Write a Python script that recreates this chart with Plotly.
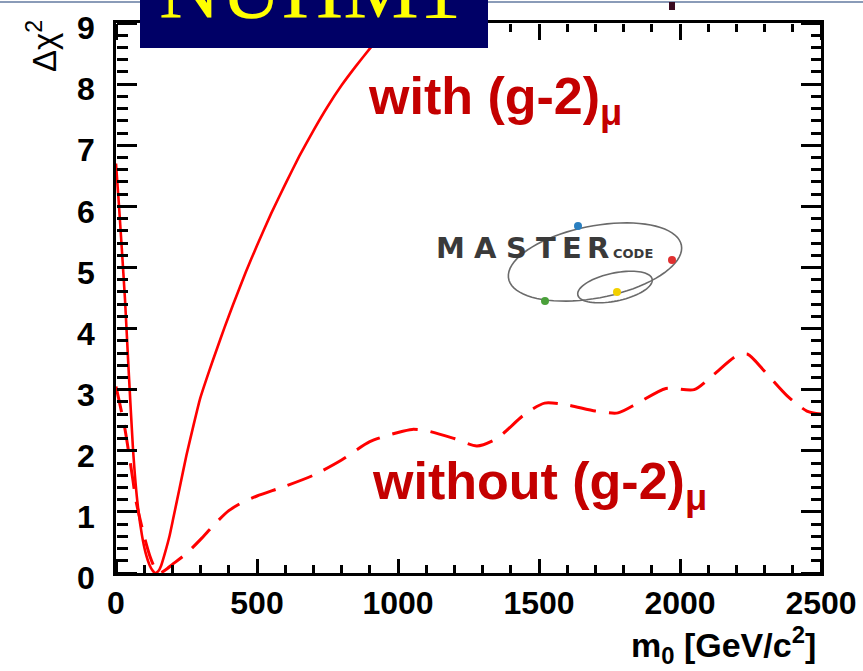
import numpy as np
import plotly.graph_objects as go

# ---------------- data ----------------
m0_with = [0, 10, 20, 32, 45, 60, 75, 92, 105, 120, 130, 140, 150, 160, 175, 190, 202,
           225, 250, 275, 298, 330, 358, 385, 415, 460, 500, 550, 600, 650, 700, 750,
           800, 850, 900, 950, 1000, 1050]
chi2_with = [6.7, 6.05, 5.35, 4.47, 3.3, 2.05, 1.2, 0.62, 0.33, 0.12, 0.04, 0.0, 0.03,
             0.12, 0.35, 0.61, 0.87, 1.38, 1.93, 2.42, 2.85, 3.3, 3.67, 4.02, 4.39, 4.92,
             5.36, 5.88, 6.36, 6.82, 7.24, 7.63, 7.98, 8.29, 8.58, 8.85, 9.1, 9.35]

m0_without = [0, 30, 60, 70, 100, 120, 140, 155, 175, 200, 250, 300, 350, 400, 450, 500,
              600, 700, 800, 900, 1000, 1050, 1100, 1200, 1280, 1350, 1450, 1520, 1600,
              1700, 1780, 1850, 1950, 2050, 2120, 2200, 2240, 2300, 2380, 2450, 2500]
chi2_without = [3.05, 2.4, 1.52, 1.2, 0.6, 0.28, 0.06, 0.0, 0.05, 0.14, 0.32, 0.55, 0.8,
                1.02, 1.16, 1.26, 1.42, 1.6, 1.85, 2.15, 2.3, 2.35, 2.33, 2.2, 2.08, 2.2,
                2.6, 2.78, 2.75, 2.65, 2.62, 2.78, 3.02, 3.0, 3.25, 3.55, 3.58, 3.3, 2.9,
                2.65, 2.6]

x_tick_vals = [0, 500, 1000, 1500, 2000, 2500]
y_tick_vals = [0, 1, 2, 3, 4, 5, 6, 7, 8, 9]
x_minor_step = 100
y_minor_step = 0.2
x_range = [0, 2500]
y_range = [0, 9]

# ---------------- geometry ----------------
W, H = 863, 671
L, R, T, B = 116, 821, 23, 573


def px(x):
    return (x - L) / (R - L)


def py(y):
    return (B - y) / (B - T)


fig = go.Figure()
fig.add_trace(go.Scatter(x=m0_with, y=chi2_with, mode="lines",
                         line=dict(color="#ff0000", width=2.6, shape="spline",
                                   smoothing=0.4),
                         hoverinfo="skip"))
fig.add_trace(go.Scatter(x=m0_without, y=chi2_without, mode="lines",
                         line=dict(color="#ff0000", width=3, dash="26px,13px",
                                   shape="spline", smoothing=0.7),
                         hoverinfo="skip"))
# empty traces so the tick-only overlay axes are drawn
fig.add_trace(go.Scatter(x=[], y=[], xaxis="x2", yaxis="y2", hoverinfo="skip"))
fig.add_trace(go.Scatter(x=[], y=[], xaxis="x3", yaxis="y3", hoverinfo="skip"))

tickfont = dict(family="Liberation Sans, Arial", size=32, color="black", weight="bold")


def x_tick_axis(side, pos, major_len, minor_len):
    return dict(overlaying="x", side=side, anchor="free", position=pos, range=x_range,
                tickmode="array", tickvals=x_tick_vals, showticklabels=False,
                ticks="outside", ticklen=major_len, tickwidth=3, tickcolor="black",
                showline=False, showgrid=False, zeroline=False,
                minor=dict(ticks="outside", ticklen=minor_len, tickmode="linear",
                           tick0=0, dtick=x_minor_step, tickwidth=2.5,
                           tickcolor="black", showgrid=False))


def y_tick_axis(side, pos, major_len, minor_len):
    return dict(overlaying="y", side=side, anchor="free", position=pos, range=y_range,
                tickmode="array", tickvals=y_tick_vals, showticklabels=False,
                ticks="outside", ticklen=major_len, tickwidth=3, tickcolor="black",
                showline=False, showgrid=False, zeroline=False,
                minor=dict(ticks="outside", ticklen=minor_len, tickmode="linear",
                           tick0=0, dtick=y_minor_step, tickwidth=2.5,
                           tickcolor="black", showgrid=False))


fig.update_layout(
    template="none",
    xaxis=dict(range=x_range, tickmode="array", tickvals=x_tick_vals,
               ticktext=[str(v) for v in x_tick_vals], ticks="",
               showline=True, linewidth=2.5, linecolor="black", mirror=True,
               showgrid=False, zeroline=False, tickfont=tickfont),
    yaxis=dict(range=y_range, tickmode="array", tickvals=y_tick_vals,
               ticktext=[str(v) for v in y_tick_vals], ticks="",
               showline=True, linewidth=2.5, linecolor="black", mirror=True,
               showgrid=False, zeroline=False, tickfont=tickfont,
               ticklabelstandoff=12, ticklabelshift=5),
    # tick marks pointing into the frame (bottom/top, left/right)
    xaxis2=x_tick_axis("top", 0, 14, 8),
    xaxis3=x_tick_axis("bottom", 1, 16, 8),
    yaxis2=y_tick_axis("right", 0, 20, 11),
    yaxis3=y_tick_axis("left", 1, 20, 10),
)

ann = []
red = "#c40000"
ann.append(dict(x=885, y=7.74, xref="x", yref="y", xanchor="left", yanchor="middle",
                text="<b>with (g-2)<sub>μ</sub></b>", showarrow=False,
                font=dict(family="Liberation Sans, Arial", size=52, color=red)))
ann.append(dict(x=900, y=1.44, xref="x", yref="y", xanchor="left", yanchor="middle",
                text="<b>without (g-2)<sub>μ</sub></b>", showarrow=False,
                font=dict(family="Liberation Sans, Arial", size=52, color=red)))
# axis titles
ann.append(dict(x=px(818), y=py(645), xref="paper", yref="paper", xanchor="right",
                yanchor="middle", text="<b>m<sub>0</sub> [GeV/c<sup>2</sup>]</b>",
                showarrow=False, font=dict(family="Liberation Sans, Arial", size=34,
                                           color="black")))
ann.append(dict(x=px(42), y=py(18), xref="paper", yref="paper", xanchor="center",
                yanchor="top", text="Δχ<sup>2</sup>", textangle=-90, showarrow=False,
                font=dict(family="Liberation Sans, Arial", size=33, color="black")))
# NUHM1 label
ann.append(dict(x=px(310), y=py(20), xref="paper", yref="paper", xanchor="center",
                yanchor="bottom", text="NUHM1", showarrow=False, yshift=-18,
                font=dict(family="Liberation Serif, Times New Roman", size=85,
                          color="#ffff00")))

# logo letters
letters = ["M", "A", "S", "T", "E", "R"]
lx = [450, 485, 516, 546, 572, 598]
for ch, xx in zip(letters, lx):
    ann.append(dict(x=px(xx), y=py(248), xref="paper", yref="paper", xanchor="center",
                    yanchor="middle", text="<b>" + ch + "</b>", showarrow=False,
                    font=dict(family="DejaVu Sans", size=29, color="#3a3a3a")))
ann.append(dict(x=px(611), y=py(253), xref="paper", yref="paper", xanchor="left",
                yanchor="middle", text="<b>CODE</b>", showarrow=False,
                font=dict(family="DejaVu Sans", size=13, color="#3a3a3a")))

shapes = []
# top thin line
shapes.append(dict(type="line", xref="paper", yref="paper", x0=px(0), x1=px(W),
                   y0=py(2), y1=py(2), line=dict(color="#8a9bb8", width=2), layer="above"))
# blue box
shapes.append(dict(type="rect", xref="paper", yref="paper", x0=px(140), x1=px(488),
                   y0=py(48), y1=py(-5), fillcolor="#000066", line=dict(width=0),
                   layer="above"))
shapes.append(dict(type="rect", xref="paper", yref="paper", x0=px(669), x1=px(675),
                   y0=py(10), y1=py(2), fillcolor="#3a0a20", line=dict(width=0),
                   layer="above"))


def ellipse_path(cx, cy, a, b, ang_deg, n=80):
    t = np.linspace(0, 2 * np.pi, n)
    ang = np.deg2rad(ang_deg)
    xs = cx + a * np.cos(t) * np.cos(ang) - b * np.sin(t) * np.sin(ang)
    ys = cy + a * np.cos(t) * np.sin(ang) + b * np.sin(t) * np.cos(ang)
    pts = ["%s%.5f,%.5f" % ("M" if i == 0 else "L", px(xv), py(yv))
           for i, (xv, yv) in enumerate(zip(xs, ys))]
    return " ".join(pts) + " Z"


shapes.append(dict(type="path", xref="paper", yref="paper",
                   path=ellipse_path(595, 262, 88, 36, -11),
                   line=dict(color="#6a6a6a", width=1.6), layer="above"))
shapes.append(dict(type="path", xref="paper", yref="paper",
                   path=ellipse_path(615, 287, 38, 14, -12),
                   line=dict(color="#6a6a6a", width=1.6), layer="above"))
for (cx, cy, col) in [(578, 226, "#2a7fc0"), (672, 260, "#e03030"),
                      (545, 301, "#4aa03a"), (617, 292, "#f2d000")]:
    shapes.append(dict(type="circle", xref="paper", yref="paper",
                       x0=px(cx - 4), x1=px(cx + 4), y0=py(cy + 4), y1=py(cy - 4),
                       fillcolor=col, line=dict(width=0), layer="above"))

fig.update_layout(width=W, height=H, margin=dict(l=L, r=W - R, t=T, b=H - B),
                  paper_bgcolor="white", plot_bgcolor="white", showlegend=False,
                  annotations=ann, shapes=shapes)

fig.write_html("out.html")
